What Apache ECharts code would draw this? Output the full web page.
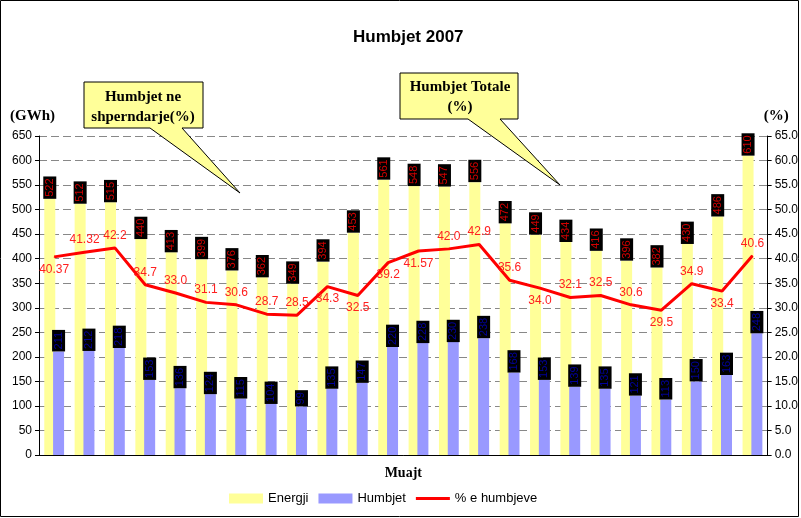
<!DOCTYPE html>
<html>
<head>
<meta charset="utf-8">
<script src="https://cdn.jsdelivr.net/npm/echarts@6/dist/echarts.min.js"></script>
<style>
  html, body { margin: 0; padding: 0; background: #fff; }
  #chart { width: 801px; height: 518px; }
</style>
</head>
<body>
<div id="chart"></div>
<script>
// muajt: 12 per humbjet ne shperndarje + 12 per humbjet totale
const months = ['Jan', 'Shk', 'Mar', 'Pri', 'Maj', 'Qer', 'Korr', 'Gush', 'Sht', 'Tet', 'Nen', 'Dhj'];
const categories = months.map(m => m + ' shp').concat(months.map(m => m + ' tot'));

// Energji (GWh)
const energji = [522, 512, 515, 440, 413, 399, 376, 362, 349, 394, 453, 561,
                 548, 547, 556, 472, 449, 434, 416, 396, 382, 430, 486, 610];
// Humbjet (GWh)
const humbjet = [211, 212, 218, 153, 136, 124, 115, 104, 99, 135, 147, 220,
                 228, 230, 238, 168, 153, 139, 135, 121, 113, 150, 163, 248];
// % e humbjeve
const perqindja = [40.37, 41.32, 42.2, 34.7, 33.0, 31.1, 30.6, 28.7, 28.5, 34.3, 32.5, 39.2,
                   41.57, 42.0, 42.9, 35.6, 34.0, 32.1, 32.5, 30.6, 29.5, 34.9, 33.4, 40.6];
// tekstet e perqindjeve (si ne excel)
const perqLabels = ['40.37', '41.32', '42.2', '34.7', '33.0', '31.1', '30.6', '28.7', '28.5', '34.3', '32.5', '39.2',
                    '41.57', '42.0', '42.9', '35.6', '34.0', '32.1', '32.5', '30.6', '29.5', '34.9', '33.4', '40.6'];
// ku vendoset etiketa e vijes
const perqPos = ['bottom', 'top', 'top', 'top', 'top', 'top', 'top', 'top', 'top', 'bottom', 'bottom', 'bottom',
                 'bottom', 'top', 'top', 'top', 'bottom', 'top', 'top', 'top', 'bottom', 'top', 'bottom', 'top'];

const chart = echarts.init(document.getElementById('chart'));

const SERIF = '"Liberation Serif", "Times New Roman", serif';
const SANS = '"Liberation Sans", Arial, sans-serif';

// etiketat e zeza me tekst vertikal
const barLabel = (color) => ({
  show: true,
  position: 'top',
  rotate: 90,
  align: 'left',
  verticalAlign: 'middle',
  distance: 0,
  color: color,
  fontFamily: SANS,
  fontSize: 11,
  lineHeight: 12,
  backgroundColor: '#000',
  padding: [1, 2, 0, 2],
});

const option = {
  animation: false,
  backgroundColor: '#fff',
  textStyle: { fontFamily: SANS },
  title: {
    text: 'Humbjet 2007',
    left: 348,
    top: 24,
    textStyle: { fontFamily: SANS, fontSize: 17, fontWeight: 'bold', color: '#000' },
  },
  legend: {
    left: 224,
    top: 487,
    itemWidth: 34,
    itemHeight: 10,
    itemGap: 10,
    textStyle: { fontFamily: SANS, fontSize: 13, color: '#000' },
    data: [
      { name: 'Energji', icon: 'rect' },
      { name: 'Humbjet', icon: 'rect' },
      { name: '% e humbjeve', icon: 'path://M0,0 L36,0 L36,3 L0,3 Z' },
    ],
  },
  grid: {
    left: 39,
    right: 33,
    top: 136,
    bottom: 63,
  },
  xAxis: {
    type: 'category',
    data: categories,
    name: 'Muajt',
    nameLocation: 'middle',
    nameGap: 11,
    nameTextStyle: { fontFamily: SERIF, fontSize: 14, fontWeight: 'bold', color: '#000' },
    axisLine: { lineStyle: { color: '#000', width: 1 } },
    axisTick: { show: false },
    axisLabel: { show: false },
    splitLine: { show: false },
  },
  yAxis: [
    {
      type: 'value',
      min: 0,
      max: 650,
      interval: 50,
      name: '(GWh)',
      nameGap: 12,
      nameTextStyle: { fontFamily: SERIF, fontSize: 15, fontWeight: 'bold', color: '#000', align: 'right', padding: [0, -16, 0, 0] },
      axisLine: { show: true, lineStyle: { color: '#000' } },
      axisTick: { show: true, length: 4, lineStyle: { color: '#000' } },
      axisLabel: { color: '#000', fontSize: 12, fontFamily: SANS, margin: 7 },
      splitLine: { show: true, lineStyle: { color: '#888', type: [8, 4], width: 1 } },
    },
    {
      type: 'value',
      min: 0,
      max: 65,
      interval: 5,
      name: '(%)',
      nameGap: 12,
      nameTextStyle: { fontFamily: SERIF, fontSize: 15, fontWeight: 'bold', color: '#000', align: 'left', padding: [0, 0, 0, -4] },
      axisLine: { show: true, lineStyle: { color: '#000' } },
      axisTick: { show: true, length: 4, lineStyle: { color: '#000' } },
      axisLabel: { color: '#000', fontSize: 12, fontFamily: SANS, margin: 7, formatter: v => v.toFixed(1) },
      splitLine: { show: false },
    },
  ],
  series: [
    {
      name: 'Energji',
      type: 'bar',
      data: energji,
      barWidth: 11,
      barGap: '-20%',
      itemStyle: { color: '#FFFF99' },
      label: barLabel('#D00000'),
    },
    {
      name: 'Humbjet',
      type: 'bar',
      data: humbjet,
      barWidth: 11,
      itemStyle: { color: '#9999FF' },
      label: barLabel('#000099'),
    },
    {
      name: '% e humbjeve',
      type: 'line',
      yAxisIndex: 1,
      symbol: 'circle',
      symbolSize: 1,
      showSymbol: true,
      lineStyle: { color: '#FF0000', width: 3 },
      itemStyle: { color: '#FF0000' },
      z: 5,
      label: {
        show: true,
        distance: 6,
        color: '#FF2020',
        fontSize: 12,
        fontFamily: SANS,
        formatter: p => perqLabels[p.dataIndex],
      },
      data: perqindja.map((v, i) => ({
        value: v,
        label: { position: perqPos[i] },
      })),
    },
  ],
  graphic: [
    // kuadrati 1: humbjet ne shperndarje
    {
      type: 'polygon',
      z: 100,
      shape: { points: [[84, 82], [203, 82], [203, 128], [182, 128], [240, 193], [150, 128], [84, 128]] },
      style: { fill: '#FFFF99', stroke: '#000', lineWidth: 1 },
    },
    {
      type: 'text',
      z: 101,
      x: 143,
      y: 87,
      style: {
        text: 'Humbjet ne\nshperndarje(%)',
        fill: '#000',
        font: 'bold 15px ' + SERIF,
        align: 'center',
        verticalAlign: 'top',
        lineHeight: 20,
      },
    },
    // kuadrati 2: humbjet totale
    {
      type: 'polygon',
      z: 100,
      shape: { points: [[400, 73], [518, 73], [518, 119], [500, 119], [560, 185], [468, 119], [400, 119]] },
      style: { fill: '#FFFF99', stroke: '#000', lineWidth: 1 },
    },
    {
      type: 'text',
      z: 101,
      x: 460,
      y: 77,
      style: {
        text: 'Humbjet Totale\n(%)',
        fill: '#000',
        font: 'bold 15px ' + SERIF,
        align: 'center',
        verticalAlign: 'top',
        lineHeight: 20,
      },
    },
    // korniza
    {
      type: 'rect',
      z: 0,
      silent: true,
      shape: { x: 0.5, y: 0.5, width: 798, height: 516 },
      style: { fill: 'none', stroke: '#000', lineWidth: 1 },
    },
  ],
};

chart.setOption(option);

// vija ndarese mes dy grupeve (kufiri mes kategorise 12 dhe 13)
const xa = chart.convertToPixel({ xAxisIndex: 0 }, categories[11]);
const xb = chart.convertToPixel({ xAxisIndex: 0 }, categories[12]);
const yTop = chart.convertToPixel({ yAxisIndex: 0 }, 650);
const yBot = chart.convertToPixel({ yAxisIndex: 0 }, 0);
const xm = Math.round((xa + xb) / 2) + 0.5;
chart.setOption({
  graphic: [{
    type: 'line',
    z: 3,
    silent: true,
    shape: { x1: xm, y1: yTop, x2: xm, y2: yBot },
    style: { stroke: '#000', lineWidth: 1 },
  }],
});
</script>
</body>
</html>
